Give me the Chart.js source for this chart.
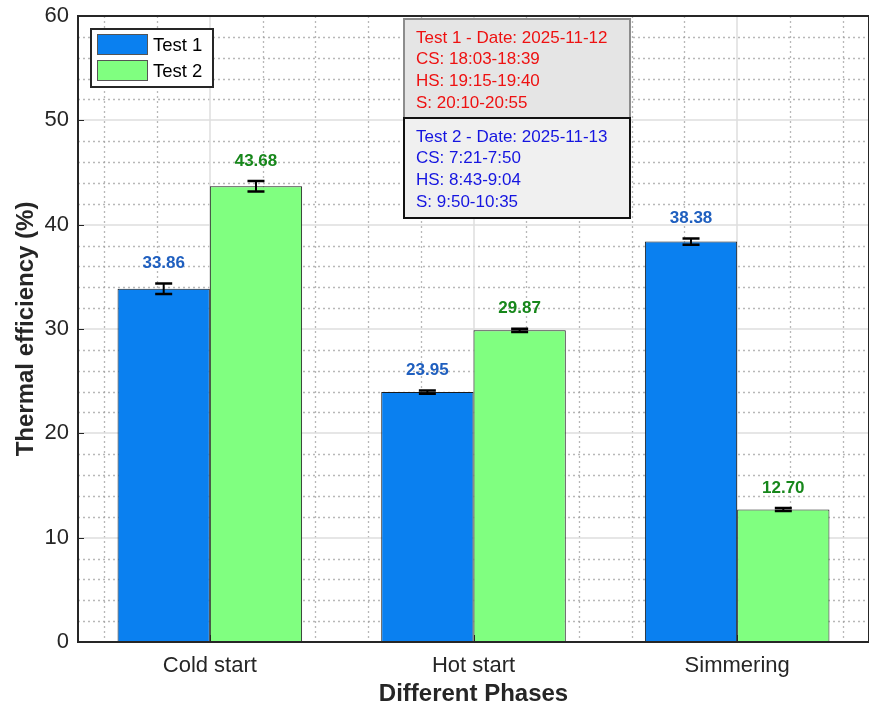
<!DOCTYPE html>
<html>
<head>
<meta charset="utf-8">
<title>Thermal efficiency by phase</title>
<script src="https://cdn.jsdelivr.net/npm/chart.js@4/dist/chart.umd.min.js"></script>
<style>
  html, body { margin: 0; padding: 0; background: #ffffff; }
  #wrap { width: 869px; height: 708px; }
</style>
</head>
<body>
<div id="wrap"><canvas id="chart" width="869" height="708"></canvas></div>
<script>
// Phases and measured thermal efficiency (%) for both test days
const categories = ['Cold start', 'Hot start', 'Simmering'];
const seriesNames = ['Test 1', 'Test 2'];
const test1Values = [33.86, 23.95, 38.38];
const test2Values = [43.68, 29.87, 12.70];
const test1Errors = [0.5, 0.15, 0.3];
const test2Errors = [0.5, 0.15, 0.15];
const yRange = [0, 60];
const yMajorStep = 10;
const yMinorStep = 2;

// Session times shown in the note boxes
const test1Note = ['Test 1 - Date: 2025-11-12', 'CS: 18:03-18:39', 'HS: 19:15-19:40', 'S: 20:10-20:55'];
const test2Note = ['Test 2 - Date: 2025-11-13', 'CS: 7:21-7:50', 'HS: 8:43-9:04', 'S: 9:50-10:35'];

const FONT = "'Liberation Sans', Arial, Helvetica, sans-serif";
const INK = '#262626';
const BLUE = '#0a80f0';
const GREEN = '#80ff80';
const LABEL_COLORS = ['#1f5fbf', '#17871b'];
const errorSets = [test1Errors, test2Errors];

// Background grid: solid major lines, dotted minor lines
const gridPlugin = {
  id: 'matlabGrid',
  beforeDatasetsDraw(chart) {
    const {ctx, chartArea: a, scales: {x, y}} = chart;
    ctx.save();
    ctx.beginPath();
    ctx.rect(a.left, a.top, a.right - a.left, a.bottom - a.top);
    ctx.clip();
    // minor dotted
    ctx.strokeStyle = 'rgba(160,160,160,0.75)';
    ctx.lineWidth = 1.3;
    ctx.setLineDash([2, 3]);
    for (let j = -2; j <= 12; j++) {
      if (j % 5 === 0) continue;
      const px = Math.round(x.getPixelForValue(j * 0.2)) + 0.5;
      ctx.beginPath(); ctx.moveTo(px, a.top); ctx.lineTo(px, a.bottom); ctx.stroke();
    }
    for (let v = yRange[0] + yMinorStep; v < yRange[1]; v += yMinorStep) {
      if (v % yMajorStep === 0) continue;
      const py = Math.round(y.getPixelForValue(v)) + 0.5;
      ctx.beginPath(); ctx.moveTo(a.left, py); ctx.lineTo(a.right, py); ctx.stroke();
    }
    // major solid
    ctx.setLineDash([]);
    ctx.strokeStyle = '#dedede';
    ctx.lineWidth = 1.5;
    categories.forEach((c, i) => {
      const px = Math.round(x.getPixelForValue(i));
      ctx.beginPath(); ctx.moveTo(px, a.top); ctx.lineTo(px, a.bottom); ctx.stroke();
    });
    for (let v = yRange[0] + yMajorStep; v < yRange[1]; v += yMajorStep) {
      const py = Math.round(y.getPixelForValue(v));
      ctx.beginPath(); ctx.moveTo(a.left, py); ctx.lineTo(a.right, py); ctx.stroke();
    }
    ctx.restore();
  }
};

// Error bars, value labels, axes box, legend and note boxes
const overlayPlugin = {
  id: 'overlay',
  afterDatasetsDraw(chart) {
    const {ctx, chartArea: a, scales: {x, y}} = chart;
    ctx.save();
    chart.data.datasets.forEach((ds, di) => {
      const meta = chart.getDatasetMeta(di);
      meta.data.forEach((bar, i) => {
        const v = ds.data[i];
        const e = errorSets[di][i];
        const cx = bar.x;
        const yHi = y.getPixelForValue(v + e);
        const yLo = y.getPixelForValue(v - e);
        const cap = 8.5;
        ctx.strokeStyle = '#000';
        ctx.lineWidth = 2;
        ctx.beginPath();
        ctx.moveTo(cx, yHi); ctx.lineTo(cx, yLo);
        ctx.stroke();
        ctx.lineWidth = 2.6;
        ctx.beginPath();
        ctx.moveTo(cx - cap, yHi); ctx.lineTo(cx + cap, yHi);
        ctx.moveTo(cx - cap, yLo); ctx.lineTo(cx + cap, yLo);
        ctx.stroke();
        ctx.fillStyle = LABEL_COLORS[di];
        ctx.font = 'bold 17px ' + FONT;
        ctx.textAlign = 'center';
        ctx.textBaseline = 'middle';
        ctx.fillText(v.toFixed(2), cx, yHi - 20);
      });
    });

    // axis ticks pointing inward
    ctx.strokeStyle = INK;
    ctx.lineWidth = 1;
    categories.forEach((c, i) => {
      const px = Math.round(x.getPixelForValue(i)) + 0.5;
      ctx.beginPath(); ctx.moveTo(px, a.bottom); ctx.lineTo(px, a.bottom - 7); ctx.stroke();
    });
    for (let v = yRange[0]; v <= yRange[1]; v += yMajorStep) {
      const py = Math.round(y.getPixelForValue(v)) + 0.5;
      ctx.beginPath(); ctx.moveTo(a.left, py); ctx.lineTo(a.left + 6, py); ctx.stroke();
    }

    // axes box
    ctx.strokeStyle = INK;
    ctx.lineWidth = 2;
    ctx.strokeRect(a.left, a.top, a.right - a.left, a.bottom - a.top);

    // legend
    const lg = {x: 91, y: 29, w: 122, h: 58};
    ctx.fillStyle = '#ffffff';
    ctx.fillRect(lg.x, lg.y, lg.w, lg.h);
    ctx.strokeStyle = INK;
    ctx.lineWidth = 2;
    ctx.strokeRect(lg.x, lg.y, lg.w, lg.h);
    chart.data.datasets.forEach((ds, di) => {
      const sy = 34.5 + di * 26;
      ctx.fillStyle = ds.backgroundColor;
      ctx.fillRect(97.5, sy, 50, 20);
      ctx.strokeStyle = '#555';
      ctx.lineWidth = 1;
      ctx.strokeRect(97.5, sy, 50, 20);
      ctx.fillStyle = '#000';
      ctx.font = '18.5px ' + FONT;
      ctx.textAlign = 'left';
      ctx.textBaseline = 'middle';
      ctx.fillText(ds.label, 153, sy + 11);
    });

    // note boxes
    const drawNote = (lines, top, fill, border, color) => {
      const bx = 404, bw = 226, bh = 100;
      ctx.fillStyle = fill;
      ctx.fillRect(bx, top, bw, bh);
      ctx.strokeStyle = border;
      ctx.lineWidth = 2;
      ctx.strokeRect(bx, top, bw, bh);
      ctx.fillStyle = color;
      ctx.font = '17px ' + FONT;
      ctx.textAlign = 'left';
      ctx.textBaseline = 'middle';
      lines.forEach((t, k) => ctx.fillText(t, 416, top + 19 + k * 21.7));
    };
    drawNote(test1Note, 19, '#e5e5e5', '#8c8c8c', '#ee1111');
    drawNote(test2Note, 118, '#f0f0f0', '#111111', '#1515e0');
    ctx.restore();
  }
};

new Chart(document.getElementById('chart'), {
  type: 'bar',
  data: {
    labels: categories,
    datasets: [
      { label: seriesNames[0], data: test1Values, backgroundColor: BLUE, borderColor: '#1a1a1a', borderWidth: 1, borderSkipped: false },
      { label: seriesNames[1], data: test2Values, backgroundColor: GREEN, borderColor: '#1a1a1a', borderWidth: 1, borderSkipped: false }
    ]
  },
  options: {
    responsive: false,
    animation: false,
    devicePixelRatio: 1,
    layout: { padding: { top: 16, right: 0, left: 0, bottom: 0 } },
    datasets: { bar: { barPercentage: 1, categoryPercentage: 0.7 } },
    plugins: { legend: { display: false }, tooltip: { enabled: false } },
    scales: {
      x: {
        offset: true,
        grid: { display: false, drawTicks: false },
        border: { display: false },
        ticks: { color: INK, padding: 11, font: { family: FONT, size: 22 } },
        title: { display: true, text: 'Different Phases', color: INK, padding: 0,
                 font: { family: FONT, size: 24, weight: 'bold', lineHeight: 1.1 } },
        afterFit(s) { s.height = 66; s.paddingLeft = 0; s.paddingRight = 0; }
      },
      y: {
        min: yRange[0], max: yRange[1],
        grid: { display: false, drawTicks: false },
        border: { display: false },
        ticks: { stepSize: yMajorStep, color: INK, padding: 9, font: { family: FONT, size: 22 } },
        title: { display: true, text: 'Thermal efficiency (%)', color: INK, padding: { top: 12, bottom: 0 },
                 font: { family: FONT, size: 24, weight: 'bold', lineHeight: 1.2 } },
        afterFit(s) { s.width = 78; s.paddingTop = 0; s.paddingBottom = 0; }
      }
    }
  },
  plugins: [gridPlugin, overlayPlugin]
});
</script>
</body>
</html>
